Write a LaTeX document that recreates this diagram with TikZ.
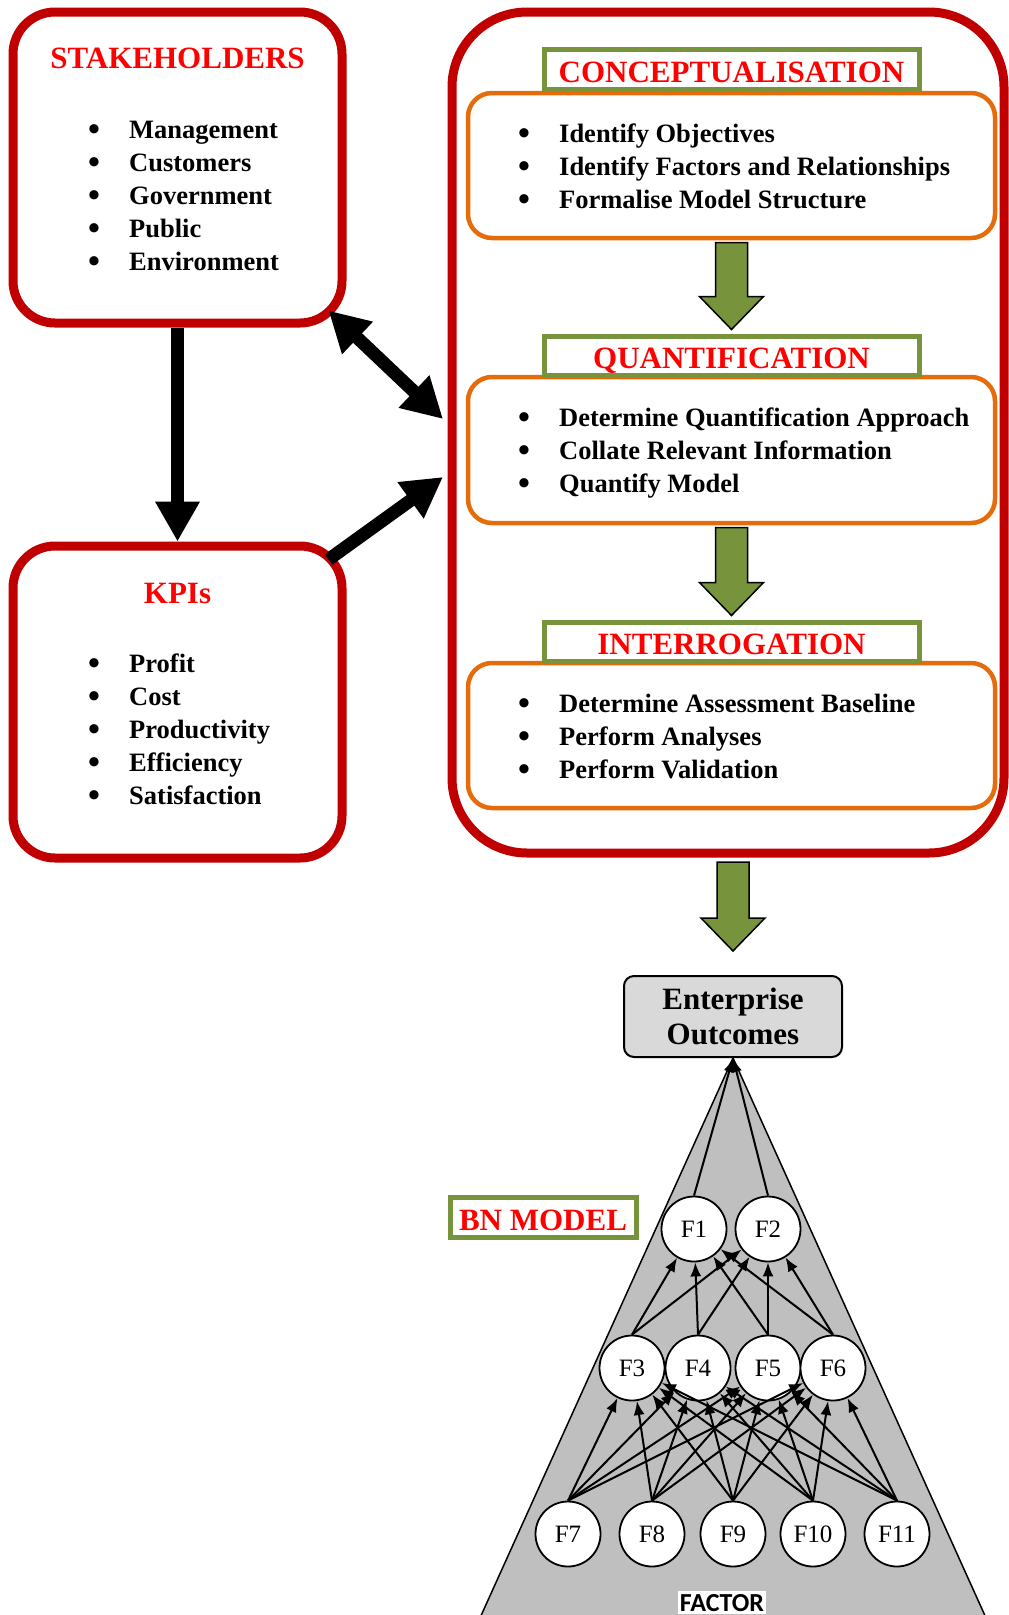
\documentclass[tikz,border=0pt]{standalone}
\usepackage{fontspec}
\setmainfont{Liberation Serif}
\newfontfamily\factorfont{Carlito}
\usepackage{xcolor}
\usetikzlibrary{arrows.meta, calc}
\usetikzlibrary{positioning}

\definecolor{boxred}{HTML}{C00000}
\definecolor{titlered}{HTML}{FF0000}
\definecolor{boxorange}{HTML}{E46C0A}
\definecolor{labelgreen}{HTML}{77933C}
\definecolor{outgray}{HTML}{D9D9D9}
\definecolor{bngray}{HTML}{BFBFBF}

\newcommand{\titlefont}{\fontsize{31}{35}\selectfont\bfseries}
\newcommand{\itemfont}{\fontsize{26.5}{33}\selectfont\bfseries}
\newcommand{\bul}{\makebox[41pt][l]{\raisebox{-2.5pt}{\fontsize{34}{33}\selectfont\textbullet}}}

\tikzset{
	bigtip/.tip={Triangle[length=40pt, width=42pt]},
	redbox/.style={draw=boxred, line width=9pt, rounded corners=42pt},
	orangebox/.style={draw=boxorange, line width=4.5pt, rounded corners=24pt, minimum width=527pt, minimum height=145pt},
	greenlabel/.style={draw=labelgreen, line width=5pt, fill=white, minimum width=375pt, minimum height=40pt, inner sep=0pt, font=\titlefont, text=titlered, text height=26pt, text depth=0pt},
	boxtitle/.style={font=\titlefont, text=titlered, anchor=base, inner sep=0pt},
	listitem/.style={anchor=base west, inner sep=0pt},
	bigarrow/.style={line width=13pt, -bigtip},
	bigdouble/.style={line width=13pt, bigtip-bigtip},
	blockarrow/.style={fill=labelgreen, draw=black, line width=1.5pt, line join=miter},
	factor/.style={draw, circle, line width=1.8pt, fill=white, minimum size=65pt, inner sep=0pt, font=\fontsize{25}{30}\selectfont},
	bnedge/.style={line width=2pt, -{Latex[length=14pt, width=11pt]}}
}

\newcommand{\blockarrow}[2]{%
	\draw[blockarrow] ($(#1)+(-16,0)$) -- ($(#2)+(-16,-33)$) -- ($(#2)+(-32,-33)$) -- (#2) -- ($(#2)+(32,-33)$) -- ($(#2)+(16,-33)$) -- ($(#1)+(16,0)$) -- cycle;%
}

\begin{document}
\begin{tikzpicture}[x=1pt, y=-1pt, every node/.style={font=\itemfont}]
	\useasboundingbox (0,0) rectangle (1009,1615);
	
	% stakeholders and KPIs
	\node[redbox, minimum width=329pt, minimum height=311pt] (stake) at (177.5,167.5) {};
	\node[boxtitle] (staketitle) at (177.5,68) {STAKEHOLDERS};
	\foreach \t [count=\i from 0] in {Management, Customers, Government, Public, Environment}
		\node[listitem] (s\i) at (88,138+33*\i) {\bul\t};
	
	\node[redbox, minimum width=329pt, minimum height=312pt] (kpi) at (177.5,702) {};
	\node[boxtitle] (kpititle) at (177.5,603) {KPIs};
	\foreach \t [count=\i from 0] in {Profit, Cost, Productivity, Efficiency, Satisfaction}
		\node[listitem] (k\i) at (88,672+33*\i) {\bul\t};
	
	% modelling process
	\node[redbox, rounded corners=75pt, minimum width=552pt, minimum height=841pt] (bigbox) at (728,432.5) {};
	
	\node[orangebox] (concept) at (731.5,165.5) {};
	\node[greenlabel] (conceptlabel) at (731.5,69) {CONCEPTUALISATION};
	\foreach \t [count=\i from 0] in {Identify Objectives, Identify Factors and Relationships, Formalise Model Structure}
		\node[listitem] (c\i) at (518,142+33*\i) {\bul\t};
	
	\node[orangebox, minimum height=146pt] (quant) at (731.5,450) {};
	\node[greenlabel, minimum height=39pt] (quantlabel) at (731.5,355.5) {QUANTIFICATION};
	\foreach \t [count=\i from 0] in {Determine Quantification Approach, Collate Relevant Information, Quantify Model}
		\node[listitem] (q\i) at (518,426+33*\i) {\bul\t};
	
	\node[orangebox] (inter) at (731.5,735.5) {};
	\node[greenlabel, minimum height=39pt] (interlabel) at (731.5,641.5) {INTERROGATION};
	\foreach \t [count=\i from 0] in {Determine Assessment Baseline, Perform Analyses, Perform Validation}
		\node[listitem] (i\i) at (518,712+33*\i) {\bul\t};
	
	\coordinate (a1s) at ($(concept.south)+(0,2.25)$);
	\coordinate (a1t) at ($(quantlabel.north)+(0,-4)$);
	\blockarrow{a1s}{a1t}
	\coordinate (a2s) at ($(quant.south)+(0,2.25)$);
	\coordinate (a2t) at ($(interlabel.north)+(0,-4)$);
	\blockarrow{a2s}{a2t}
	
	% black arrows
	\coordinate (out1) at ($(stake.south east)+(-18,-17)$);
	\coordinate (out2) at ($(kpi.north east)+(-18,18)$);
	\coordinate (in1) at (443,419);
	\coordinate (in2) at (443,477);
	\draw[bigarrow] (stake.south) -- (kpi.north);
	\draw[bigdouble] (out1) -- (in1);
	\draw[bigarrow] (out2) -- (in2);
	
	% BN model
	\coordinate (apex) at (733,1058);
	\filldraw[fill=bngray, line width=1.5pt] (apex) -- (470,1640) -- (996,1640) -- cycle;
	
	\node[draw, line width=2pt, fill=outgray, rounded corners=10pt, minimum width=218pt, minimum height=81pt, align=center, font=\titlefont] (eo) at (733,1016.5) {Enterprise\\Outcomes};
	\coordinate (a3s) at ($(bigbox.south -| eo.north)+(0,4.5)$);
	\coordinate (a3t) at ($(eo.north)+(0,-24)$);
	\blockarrow{a3s}{a3t}
	
	\node[greenlabel, minimum width=186pt] (bnlabel) at (543,1217) {BN MODEL};
	
	\node[factor] (f1) at (694,1229) {F1};
	\node[factor] (f2) at (768,1229) {F2};
	\node[factor] (f3) at (632,1368) {F3};
	\node[factor] (f4) at (698,1368) {F4};
	\node[factor] (f5) at (768,1368) {F5};
	\node[factor] (f6) at (833,1368) {F6};
	\node[factor] (f7) at (568,1534) {F7};
	\node[factor] (f8) at (652,1534) {F8};
	\node[factor] (f9) at (733,1534) {F9};
	\node[factor] (f10) at (813,1534) {F10};
	\node[factor] (f11) at (897,1534) {F11};
	
	\draw[bnedge] (f1.north) -- (eo.south);
	\draw[bnedge] (f2.north) -- (eo.south);
	\foreach \a in {3,...,6}
		\foreach \b in {1,2}
			\draw[bnedge] (f\a.north) -- (f\b);
	\foreach \a in {7,...,11}
		\foreach \b in {3,...,6}
			\draw[bnedge] (f\a.north) -- (f\b);
	
	\node[fill=white, inner xsep=2pt, inner ysep=2.5pt, text depth=0pt, anchor=base, font=\factorfont\bfseries\fontsize{26}{30}\selectfont] (factorlabel) at (722,1611) {FACTOR};
\end{tikzpicture}
\end{document}
